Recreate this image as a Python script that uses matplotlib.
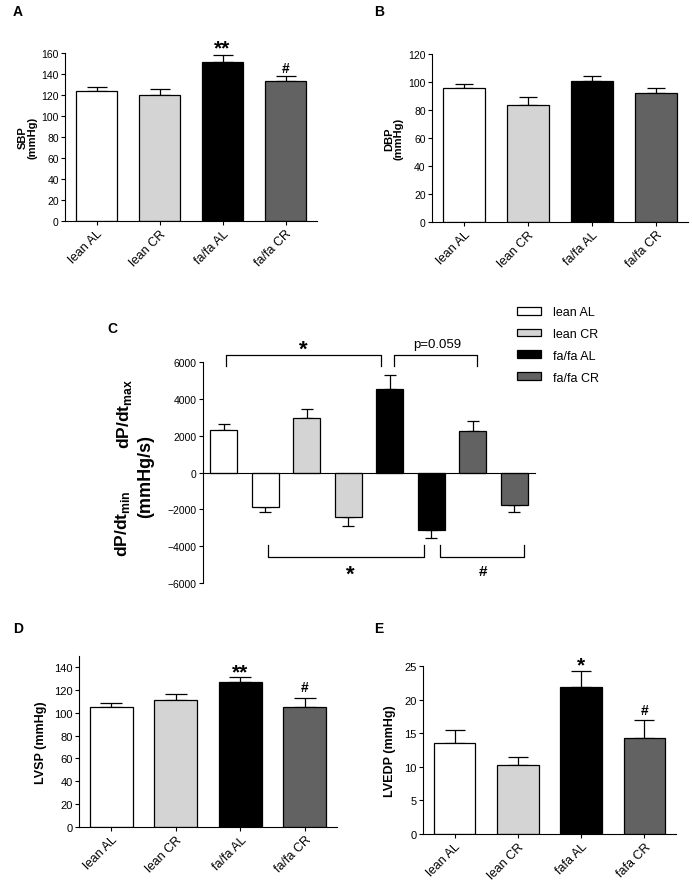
import matplotlib
matplotlib.use("Agg")
import matplotlib.pyplot as plt
from matplotlib.patches import Patch
import numpy as np

plt.rcParams['font.family'] = ['Liberation Sans', 'DejaVu Sans']
plt.rcParams['mathtext.fontset'] = 'custom'
plt.rcParams['mathtext.rm'] = 'Liberation Sans'
plt.rcParams['mathtext.bf'] = 'Liberation Sans:bold'

groups = ['lean AL', 'lean CR', 'fa/fa AL', 'fa/fa CR']
groups_e = ['lean AL', 'lean CR', 'fafa AL', 'fafa CR']
colors = ['white', '#d4d4d4', 'black', '#626262']

# A: systolic BP
sbp = [124, 120, 151, 133]
sbp_err = [4, 6, 7, 5]
# B: diastolic BP
dbp = [95.5, 83.5, 100.5, 92.5]
dbp_err = [3, 6, 4, 3.5]
# C: dP/dt max and min
dpdt_max = [2300, 2950, 4520, 2240]
dpdt_max_err = [330, 520, 760, 560]
dpdt_min = [-1900, -2440, -3130, -1770]
dpdt_min_err = [220, 450, 450, 350]
# D: LVSP
lvsp = [105, 111.2, 127.2, 105]
lvsp_err = [3.6, 5.3, 3.8, 8]
# E: LVEDP
lvedp = [13.5, 10.25, 21.9, 14.35]
lvedp_err = [2.0, 1.15, 2.35, 2.55]

W, H = 692, 887
fig = plt.figure(figsize=(W / 100, H / 100), dpi=100)


def axes_px(left, right, top, bottom):
    return fig.add_axes([left / W, 1 - bottom / H, (right - left) / W, (bottom - top) / H])


def style(ax, ysize):
    for s in ['top', 'right']:
        ax.spines[s].set_visible(False)
    for s in ['left', 'bottom']:
        ax.spines[s].set_linewidth(0.8)
    ax.tick_params(axis='both', direction='out', length=3, width=0.8, pad=1.5)
    ax.tick_params(axis='y', labelsize=ysize)
    ax.tick_params(axis='x', labelsize=9)


def bar_panel(ax, vals, errs, labels, ylim, yticks, ylabel, cap, ysize, lsize):
    x = np.arange(len(vals))
    ax.bar(x, vals, width=0.66, color=colors, edgecolor='black', linewidth=0.9, zorder=2)
    ax.errorbar(x, vals, yerr=[np.zeros(len(errs)), errs], fmt='none', ecolor='black',
                elinewidth=0.9, capsize=cap, capthick=0.9, zorder=1)
    ax.set_xlim(-0.5, len(vals) - 0.5)
    ax.set_ylim(*ylim)
    ax.set_yticks(yticks)
    ax.set_xticks(x)
    ax.set_xticklabels(labels, rotation=45, ha='right', rotation_mode='anchor')
    ax.set_ylabel(ylabel, fontsize=lsize, fontweight='bold', linespacing=1.0)
    style(ax, ysize)


# Panel A
axA = axes_px(65, 317, 54, 222)
bar_panel(axA, sbp, sbp_err, groups, (0, 160), range(0, 161, 20), 'SBP\n(mmHg)', 7.5, 7.5, 8)
axA.yaxis.set_label_coords(-0.11, 0.5)
axA.text(2, sbp[2] + sbp_err[2] - 2, '**', ha='center', va='bottom', fontsize=15, fontweight='bold')
axA.text(3, sbp[3] + sbp_err[3] + 1, '#', ha='center', va='bottom', fontsize=10, fontweight='bold')

# Panel B
axB = axes_px(432, 688, 55, 223)
bar_panel(axB, dbp, dbp_err, groups, (0, 120), range(0, 121, 20), 'DBP\n(mmHg)', 6.5, 7.5, 8)
axB.yaxis.set_label_coords(-0.11, 0.5)

# Panel C
axC = axes_px(203, 535, 363, 584)
xc = np.arange(8)
c_vals = np.ravel(np.column_stack([dpdt_max, dpdt_min]))
c_errs = np.ravel(np.column_stack([dpdt_max_err, dpdt_min_err]))
c_cols = [c for c in colors for _ in range(2)]
axC.bar(xc, c_vals, width=0.66, color=c_cols, edgecolor='black', linewidth=0.9, zorder=2)
pos = c_vals > 0
axC.errorbar(xc, c_vals, yerr=[np.where(pos, 0, c_errs), np.where(pos, c_errs, 0)],
             fmt='none', ecolor='black', elinewidth=0.9, capsize=4.3, capthick=0.9, zorder=1)
axC.set_xlim(-0.5, 7.5)
axC.set_ylim(-6000, 6000)
axC.set_yticks(range(-6000, 6001, 2000))
axC.set_xticks([])
style(axC, 7.5)
axC.spines['bottom'].set_position(('data', 0))

# significance brackets
br = dict(color='black', lw=0.9, clip_on=False)
axC.plot([0.05, 0.05, 3.8, 3.8], [5780, 6400, 6400, 5780], **br)
axC.plot([4.1, 4.1, 6.1, 6.1], [5780, 6400, 6400, 5780], **br)
axC.plot([1.07, 1.07, 4.82, 4.82], [-3940, -4610, -4610, -3940], **br)
axC.plot([5.2, 5.2, 7.24, 7.24], [-3940, -4610, -4610, -3940], **br)
axC.text(1.92, 6700, '*', ha='center', va='center', fontsize=16, fontweight='bold', clip_on=False)
axC.text(5.15, 7000, 'p=0.059', ha='center', va='center', fontsize=9.5, clip_on=False)
axC.text(3.05, -5500, '*', ha='center', va='center', fontsize=16, fontweight='bold', clip_on=False)
axC.text(6.25, -5330, '#', ha='center', va='center', fontsize=11, fontweight='bold', clip_on=False)

# y label of C
fig.text(125 / W, 1 - 414 / H, r'dP/dt$_{\mathbf{max}}$', rotation=90, ha='center', va='center',
         fontsize=12.5, fontweight='bold')
fig.text(123 / W, 1 - 524 / H, r'dP/dt$_{\mathbf{min}}$', rotation=90, ha='center', va='center',
         fontsize=12.5, fontweight='bold')
fig.text(146 / W, 1 - 476 / H, '(mmHg/s)', rotation=90, ha='center', va='center',
         fontsize=13, fontweight='bold')

handles = [Patch(facecolor=c, edgecolor='black', linewidth=0.9) for c in colors]
fig.legend(handles, groups, loc='upper left', bbox_to_anchor=(517 / W, 1 - 307 / H),
           frameon=False, fontsize=9, handlelength=1.9, handleheight=0.6,
           handletextpad=1.0, labelspacing=0.79, borderpad=0, borderaxespad=0)

# Panel D
axD = axes_px(79, 337, 656.6, 828)
bar_panel(axD, lvsp, lvsp_err, groups, (0, 150), range(0, 141, 20), 'LVSP (mmHg)', 7.8, 8, 9)
axD.yaxis.set_label_coords(-0.124, 0.5)
axD.text(2, lvsp[2] + lvsp_err[2] - 4, '**', ha='center', va='bottom', fontsize=15, fontweight='bold')
axD.text(3, lvsp[3] + lvsp_err[3] + 3, '#', ha='center', va='bottom', fontsize=10, fontweight='bold')

# Panel E
axE = axes_px(423, 676, 667, 835)
bar_panel(axE, lvedp, lvedp_err, groups_e, (0, 25), range(0, 26, 5), 'LVEDP (mmHg)', 7, 8, 9)
axE.yaxis.set_label_coords(-0.107, 0.5)
axE.text(2, lvedp[2] + lvedp_err[2] - 0.45, '*', ha='center', va='bottom', fontsize=15, fontweight='bold')
axE.text(3, lvedp[3] + lvedp_err[3] + 0.5, '#', ha='center', va='bottom', fontsize=10, fontweight='bold')

# panel letters
for lab, xp, yp in [('A', 13, 5), ('B', 374, 5), ('C', 107, 322), ('D', 13, 622), ('E', 374, 622)]:
    fig.text(xp / W, 1 - yp / H, lab, ha='left', va='top', fontsize=10, fontweight='bold')

fig.savefig('out.png', dpi=100)
